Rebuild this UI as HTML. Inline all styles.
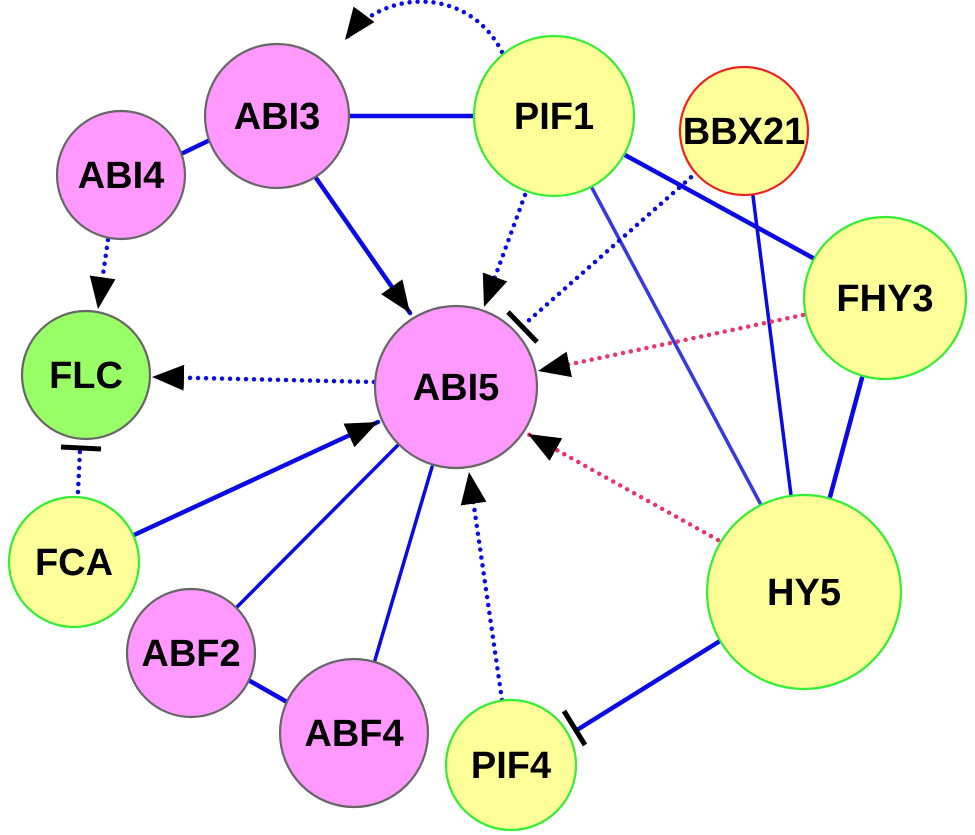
<!DOCTYPE html>
<html><head><meta charset="utf-8"><style>
html,body{margin:0;padding:0;background:#fff;}
svg{display:block;}
text{font-family:"Liberation Sans",Arial,sans-serif;font-weight:bold;font-size:38px;fill:#000;text-anchor:middle;dominant-baseline:central;}
</style></head><body>
<svg width="975" height="835" viewBox="0 0 975 835" xmlns="http://www.w3.org/2000/svg">
<defs>
<marker id="ar" markerUnits="userSpaceOnUse" markerWidth="34" markerHeight="26" refX="32" refY="13" orient="auto">
<path d="M0,0 L32,13 L0,26 Z" fill="#000"/>
</marker>
</defs>
<g fill="none" stroke-linecap="round">
<!-- solid blue -->
<g stroke="#0a0ae6" stroke-width="4.5">
<line x1="348" y1="116" x2="474" y2="116"/>
<line x1="183" y1="153" x2="210" y2="140"/>
<line x1="316" y1="178" x2="410" y2="313" marker-end="url(#ar)"/>
<line x1="625" y1="155" x2="813" y2="258"/>
<line x1="862" y1="378" x2="830" y2="497"/>
<line x1="134" y1="535" x2="378" y2="422" marker-end="url(#ar)"/>
<line x1="250" y1="681" x2="287" y2="702"/>
<line x1="720" y1="641" x2="577" y2="730"/>
</g>
<g stroke="#0a0ae6" stroke-width="3.5">
<line x1="237" y1="607" x2="398" y2="445"/>
<line x1="375" y1="660" x2="432" y2="467"/>
<line x1="753" y1="196" x2="791" y2="495"/>
</g>
<line x1="592" y1="188" x2="760" y2="503" stroke="#3838e0" stroke-width="3.5"/>
<!-- dotted blue -->
<g stroke="#0a0ae6" stroke-width="4.5" stroke-dasharray="0 8">
<path d="M502,52 C470,-12 385,-14 345,40" marker-end="url(#ar)"/>
<line x1="525" y1="195" x2="484" y2="307" marker-end="url(#ar)"/>
<line x1="697" y1="172" x2="527" y2="322"/>
<line x1="374" y1="382" x2="152" y2="377" marker-end="url(#ar)"/>
<line x1="108" y1="240" x2="98" y2="309" marker-end="url(#ar)"/>
<line x1="78" y1="492" x2="80" y2="450"/>
<line x1="502" y1="700" x2="469" y2="472" marker-end="url(#ar)"/>
</g>
<!-- dotted red -->
<g stroke="#ee3366" stroke-width="4.5" stroke-dasharray="0 8">
<line x1="803" y1="315" x2="538" y2="371" marker-end="url(#ar)"/>
<line x1="718" y1="540" x2="528" y2="434" marker-end="url(#ar)"/>
</g>
<!-- T bars -->
<g stroke="#000" stroke-width="5" stroke-linecap="butt">
<line x1="508" y1="312" x2="537" y2="342"/>
<line x1="61" y1="447" x2="101" y2="449"/>
<line x1="564" y1="711" x2="585" y2="745"/>
</g>
</g>
<!-- nodes -->
<g stroke-width="2.2">
<circle cx="277" cy="116" r="72" fill="#ff99ff" stroke="#666"/>
<circle cx="554" cy="116" r="80" fill="#ffff99" stroke="#33ee33"/>
<circle cx="744" cy="131" r="64" fill="#ffff99" stroke="#ee2222"/>
<circle cx="121" cy="175" r="64" fill="#ff99ff" stroke="#666"/>
<circle cx="86" cy="375" r="64" fill="#99ff66" stroke="#666"/>
<circle cx="456" cy="387" r="81" fill="#ff99ff" stroke="#666"/>
<circle cx="885" cy="298" r="81" fill="#ffff99" stroke="#33ee33"/>
<circle cx="74" cy="562" r="65" fill="#ffff99" stroke="#33ee33"/>
<circle cx="191" cy="653" r="64" fill="#ff99ff" stroke="#666"/>
<circle cx="354" cy="733" r="74" fill="#ff99ff" stroke="#666"/>
<circle cx="511" cy="765" r="65" fill="#ffff99" stroke="#33ee33"/>
<circle cx="804" cy="592" r="97" fill="#ffff99" stroke="#33ee33"/>
</g>
<text x="277" y="117">ABI3</text>
<text x="554" y="117">PIF1</text>
<text x="744" y="132">BBX21</text>
<text x="121" y="176">ABI4</text>
<text x="86" y="376">FLC</text>
<text x="456" y="388">ABI5</text>
<text x="885" y="299">FHY3</text>
<text x="74" y="563">FCA</text>
<text x="191" y="654">ABF2</text>
<text x="354" y="734">ABF4</text>
<text x="511" y="766">PIF4</text>
<text x="804" y="593">HY5</text>
</svg>
</body></html>
